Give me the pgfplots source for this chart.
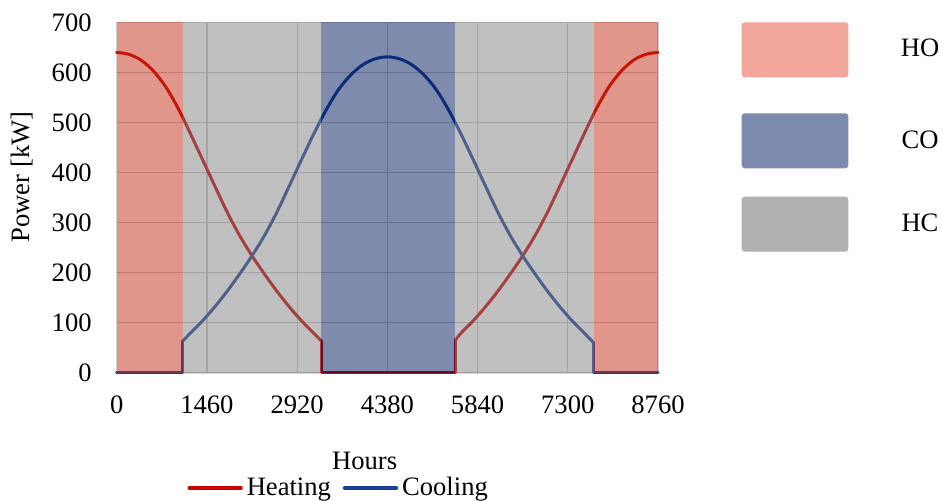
\documentclass[border=0pt]{standalone}
\usepackage{fontspec}
\setmainfont{Liberation Serif}
\usepackage{pgfplots}
\pgfplotsset{compat=1.18}
\definecolor{heatline}{RGB}{205,0,0}
\definecolor{coolline}{RGB}{25,65,150}
\definecolor{hofill}{RGB}{193,45,21}
\definecolor{cofill}{RGB}{0,23,91}
\definecolor{hcfill}{RGB}{129,129,129}
\definecolor{holeg}{RGB}{242,165,154}
\definecolor{coleg}{RGB}{125,140,174}
\definecolor{hcleg}{RGB}{176,176,176}
\newcommand{\chartfont}{\fontsize{13.3}{16}\selectfont}
\begin{document}
\begin{tikzpicture}
\useasboundingbox (0,0) rectangle (471pt,250.5pt);
\begin{axis}[
  at={(58.35pt,64pt)}, anchor=south west,
  scale only axis, width=270.65pt, height=175.35pt,
  xmin=0, xmax=8760, ymin=0, ymax=700,
  xtick={0,1460,2920,4380,5840,7300,8760},
  ytick={0,100,200,300,400,500,600,700},
  scaled x ticks=false, scaled y ticks=false,
  /pgf/number format/1000 sep={},
  /pgf/number format/assume math mode=true,
  ticklabel style={font=\chartfont},
  xticklabel style={yshift=-8pt},
  yticklabel style={xshift=-9pt},
  tick style={draw=none},
  grid=major,
  major grid style={draw=black!22, line width=0.6pt},
  axis line style={draw=black!18},
  clip=false,
  xlabel={Hours}, ylabel={Power [kW]},
  label style={font=\chartfont},
  xlabel style={at={(axis description cs:0.458,-0.251)}, anchor=center},
  ylabel style={at={(axis description cs:-0.174,0.559)}, anchor=center},
  legend columns=2,
  legend style={at={(axis description cs:0.412,-0.328)}, anchor=center,
    draw=none, fill=none, font=\chartfont,
    /tikz/every even column/.append style={column sep=4pt}},
  legend image code/.code={\draw[#1, line width=1.6pt] (0pt,0pt) -- (26pt,0pt);},
  every axis plot/.append style={line join=round, line cap=round},
]
% Heating
\addplot[heatline, line width=1.5pt, smooth, tension=0.5] coordinates {
(0,640)(200,636)(400,624)(600,602)(800,570)(1000,527)(1200,476)(1400,423)
(1600,370)(1800,318)(2000,272)(2200,232)(2400,196)(2600,162)(2800,131)
(3000,103)(3200,78)(3310,64)};
\addlegendentry{Heating}
\addplot[heatline, line width=1.5pt, forget plot] coordinates {
(3310,64)(3310,0)(5480,0)(5480,65)};
\addplot[heatline, line width=1.5pt, smooth, tension=0.5, forget plot] coordinates {
(5480,65)(5560,78)(5760,103)
(5960,131)(6160,162)(6360,196)(6560,232)(6760,272)(6960,318)(7160,370)
(7360,423)(7560,476)(7760,527)(7960,570)(8160,602)(8360,624)(8560,636)(8760,640)};
% Cooling
\addplot[coolline, line width=1.5pt, smooth, tension=0.5] coordinates {
(1065,63)(1180,78)(1380,103)(1580,131)(1780,162)(1980,196)
(2180,232)(2380,272)(2580,318)(2780,370)(2980,423)(3180,475)(3380,523)
(3580,564)(3780,594)(3980,615)(4180,627)(4380,631)(4580,627)(4780,615)
(4980,594)(5180,564)(5380,523)(5580,475)(5780,423)(5980,370)(6180,318)
(6380,272)(6580,232)(6780,196)(6980,162)(7180,131)(7380,103)(7580,78)
(7720,60)};
\addlegendentry{Cooling}
\addplot[coolline, line width=1.5pt, forget plot] coordinates {(0,0)(1065,0)(1065,63)};
\addplot[coolline, line width=1.5pt, forget plot] coordinates {(7720,60)(7720,0)(8760,0)};
% operating regions
\addplot[draw=none, fill=hofill, fill opacity=0.5, forget plot] coordinates {(0,700)(1065,700)} \closedcycle;
\addplot[draw=none, fill=hcfill, fill opacity=0.5, forget plot] coordinates {(1065,700)(3310,700)} \closedcycle;
\addplot[draw=none, fill=cofill, fill opacity=0.5, forget plot] coordinates {(3310,700)(5480,700)} \closedcycle;
\addplot[draw=none, fill=hcfill, fill opacity=0.5, forget plot] coordinates {(5480,700)(7720,700)} \closedcycle;
\addplot[draw=none, fill=hofill, fill opacity=0.5, forget plot] coordinates {(7720,700)(8760,700)} \closedcycle;
\end{axis}
% region legend
\fill[holeg, rounded corners=1.5pt] (370.85pt,211.85pt) rectangle (424.15pt,239.35pt);
\fill[coleg, rounded corners=1.5pt] (370.85pt,166.35pt) rectangle (424.15pt,193.85pt);
\fill[hcleg, rounded corners=1.5pt] (370.85pt,124.65pt) rectangle (424.15pt,152.15pt);
\node[font=\chartfont, anchor=center] at (460pt,226.6pt) {HO};
\node[font=\chartfont, anchor=center] at (460pt,180.8pt) {CO};
\node[font=\chartfont, anchor=center] at (460pt,139.1pt) {HC};
\end{tikzpicture}
\end{document}
